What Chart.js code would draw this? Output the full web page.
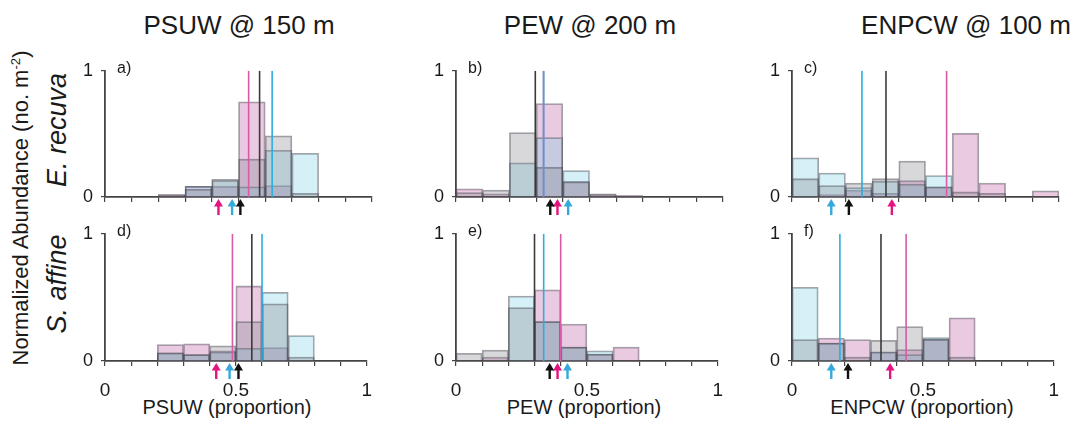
<!DOCTYPE html>
<html>
<head>
<meta charset="utf-8">
<script src="https://cdn.jsdelivr.net/npm/chart.js@4.4.1/dist/chart.umd.min.js"></script>
<style>
  html, body { margin: 0; padding: 0; background: #fff; }
  body { width: 1077px; height: 430px; position: relative; overflow: hidden;
         font-family: "Liberation Sans", Arial, sans-serif; color: #1a1a1a; }
  canvas { position: absolute; }
  .t { position: absolute; white-space: nowrap; line-height: 1; }
  .c { transform: translateX(-50%); }
  .r { transform: translate(-50%, -50%) rotate(-90deg); }
</style>
</head>
<body>
<div class="t c" style="left:239px; top:12px; font-size:26px;">PSUW @ 150 m</div>
<div class="t c" style="left:590px; top:12px; font-size:26px;">PEW @ 200 m</div>
<div class="t c" style="left:966px; top:12px; font-size:26px;">ENPCW @ 100 m</div>

<div class="t r" style="left:21px; top:208px; font-size:22px;">Normalized Abundance (no. m<span style="font-size:0.6em; position:relative; top:-0.6em;">-2</span>)</div>
<div class="t r" style="left:57px; top:130px; font-size:27px; font-style:italic;">E. recuva</div>
<div class="t r" style="left:57px; top:284px; font-size:27px; font-style:italic;">S. affine</div>

<div class="t c" style="left:227px; top:397px; font-size:20px;">PSUW (proportion)</div>
<div class="t c" style="left:584px; top:397px; font-size:20px;">PEW (proportion)</div>
<div class="t c" style="left:922px; top:397px; font-size:20px;">ENPCW (proportion)</div>

<script>
// ---------- data ----------
const binCenters = [0.05, 0.15, 0.25, 0.35, 0.45, 0.55, 0.65, 0.75, 0.85, 0.95];
const panelLabels = ['a)', 'b)', 'c)', 'd)', 'e)', 'f)'];
const xTickValues = [0, 0.5, 1];
const xTickText = ['0', '0.5', '1'];
const yTickValues = [0, 1];
const yTickText = ['0', '1'];

// PSUW, E. recurva (a)
const grey_a    = [0, 0, 0.02, 0.06, 0.14, 0.30, 0.485, 0.03, 0, 0];
const cyan_a    = [0, 0, 0, 0.085, 0.13, 0.08, 0.37, 0.347, 0, 0];
const magenta_a = [0, 0, 0.02, 0.085, 0.085, 0.754, 0.09, 0, 0, 0];
// PEW, E. recurva (b)
const grey_b    = [0.035, 0.055, 0.51, 0.235, 0.12, 0.025, 0.012, 0, 0, 0];
const cyan_b    = [0, 0, 0.27, 0.47, 0.21, 0, 0, 0, 0, 0];
const magenta_b = [0.065, 0.025, 0, 0.74, 0.125, 0.02, 0.01, 0, 0, 0];
// ENPCW, E. recurva (c)
const grey_c    = [0.145, 0.09, 0.11, 0.145, 0.285, 0.08, 0.04, 0.03, 0, 0];
const cyan_c    = [0.31, 0.19, 0.075, 0.125, 0.10, 0.17, 0, 0, 0, 0];
const magenta_c = [0, 0.02, 0.055, 0.03, 0.13, 0.08, 0.505, 0.11, 0, 0.048];
// PSUW, S. affine (d)
const grey_d    = [0, 0, 0.065, 0.05, 0.12, 0.31, 0.45, 0.03, 0, 0];
const cyan_d    = [0, 0, 0.065, 0.05, 0.07, 0.10, 0.54, 0.20, 0, 0];
const magenta_d = [0, 0, 0.13, 0.135, 0.08, 0.59, 0.105, 0, 0, 0];
// PEW, S. affine (e)
const grey_e    = [0.06, 0.085, 0.42, 0.31, 0.11, 0.055, 0, 0, 0, 0];
const cyan_e    = [0, 0, 0.51, 0.31, 0.11, 0.08, 0, 0, 0, 0];
const magenta_e = [0, 0.03, 0, 0.56, 0.29, 0.055, 0.11, 0, 0, 0];
// ENPCW, S. affine (f)
const grey_f    = [0.1675, 0.14, 0.03, 0.1625, 0.27, 0.17, 0.03, 0, 0, 0];
const cyan_f    = [0.58, 0.14, 0, 0.07, 0.05, 0.185, 0, 0, 0, 0];
const magenta_f = [0, 0.18, 0.1675, 0.0725, 0.09, 0.17, 0.34, 0, 0, 0];

// vertical lines (one value per panel a..f)
const meanBlack   = [0.579, 0.297, 0.352, 0.561, 0.300, 0.340];
const meanCyan    = [0.626, 0.328, 0.262, 0.600, 0.335, 0.183];
const meanMagenta = [0.538, 0.328, 0.579, 0.487, 0.400, 0.436];
// arrows below axis (one value per panel a..f)
const arrowBlack   = [0.507, 0.353, 0.213, 0.510, 0.358, 0.214];
const arrowCyan    = [0.476, 0.420, 0.147, 0.476, 0.426, 0.150];
const arrowMagenta = [0.425, 0.380, 0.374, 0.425, 0.388, 0.375];

const greys    = [grey_a, grey_b, grey_c, grey_d, grey_e, grey_f];
const cyans    = [cyan_a, cyan_b, cyan_c, cyan_d, cyan_e, cyan_f];
const magentas = [magenta_a, magenta_b, magenta_c, magenta_d, magenta_e, magenta_f];

// ---------- style / layout ----------
const COL = {
  greyFill: 'rgba(125,125,135,0.30)',
  cyanFill: 'rgba(115,205,228,0.30)',
  magFill: 'rgba(190,100,165,0.34)',
  border: 'rgba(70,70,80,0.5)',
  blackLine: '#3a3a3a',
  cyanLine: '#2aaee0',
  magLine: '#d85aa8',
  blackArrow: '#111111',
  cyanArrow: '#35a9dc',
  magArrow: '#e5137f',
  axis: '#444444',
  text: '#1a1a1a'
};
const FONT = "'Liberation Sans', Arial, sans-serif";
Chart.defaults.font.family = FONT;

const colsX = [105, 456, 792];
const rowsY = [{ top: 64, h: 133, bottom: false }, { top: 227, h: 134, bottom: true }];
const PLOT_W = 268, LEFT = 50, RIGHT = 12, TOP = 12;

function arrowPlugin(i) {
  return {
    id: 'arrows' + i,
    afterDatasetsDraw(chart) {
      const ctx = chart.ctx, xs = chart.scales.x, base = chart.chartArea.bottom;
      const list = [[arrowMagenta[i], COL.magArrow], [arrowCyan[i], COL.cyanArrow], [arrowBlack[i], COL.blackArrow]];
      list.forEach(([v, col]) => {
        const px = xs.getPixelForValue(v);
        ctx.save();
        ctx.strokeStyle = col; ctx.fillStyle = col; ctx.lineWidth = 2.4;
        ctx.beginPath(); ctx.moveTo(px, base + 18); ctx.lineTo(px, base + 8); ctx.stroke();
        ctx.beginPath();
        ctx.moveTo(px, base + 2);
        ctx.lineTo(px - 4.5, base + 9.5);
        ctx.lineTo(px + 4.5, base + 9.5);
        ctx.closePath(); ctx.fill();
        ctx.restore();
      });
    }
  };
}

function makePanel(i) {
  const col = i % 3, row = Math.floor(i / 3);
  const r = rowsY[row];
  const xh = r.bottom ? 45 : 28;
  const W = LEFT + PLOT_W + RIGHT, H = TOP + r.h + xh;
  const cv = document.createElement('canvas');
  cv.width = W; cv.height = H;
  cv.style.width = W + 'px'; cv.style.height = H + 'px';
  cv.style.left = (colsX[col] - LEFT) + 'px';
  cv.style.top = (r.top - TOP) + 'px';
  document.body.appendChild(cv);

  const lbl = document.createElement('div');
  lbl.className = 't';
  lbl.style.cssText = 'left:' + (colsX[col] + 12) + 'px; top:' + (r.top - 4) + 'px; font-size:16px;';
  lbl.textContent = panelLabels[i];
  document.body.appendChild(lbl);

  const pts = arr => arr.map((v, k) => ({ x: binCenters[k], y: v }));
  const vline = v => [{ x: v, y: 0 }, { x: v, y: 1 }];
  const barDs = (arr, fill) => ({ type: 'bar', data: pts(arr), backgroundColor: fill,
    borderColor: COL.border, borderWidth: 1.1, order: 2 });
  const lineDs = (v, c) => ({ type: 'line', data: vline(v), borderColor: c, borderWidth: 1.6,
    pointRadius: 0, fill: false, order: 1 });

  new Chart(cv, {
    type: 'bar',
    data: {
      datasets: [
        lineDs(meanCyan[i], COL.cyanLine),
        lineDs(meanBlack[i], COL.blackLine),
        lineDs(meanMagenta[i], COL.magLine),
        barDs(greys[i], COL.greyFill),
        barDs(cyans[i], COL.cyanFill),
        barDs(magentas[i], COL.magFill)
      ]
    },
    options: {
      responsive: false, animation: false, devicePixelRatio: 1,
      layout: { padding: { left: 0, right: RIGHT, top: TOP, bottom: 0 } },
      plugins: { legend: { display: false }, tooltip: { enabled: false } },
      datasets: { bar: { barPercentage: 1, categoryPercentage: 1, grouped: false } },
      scales: {
        x: {
          type: 'linear', min: 0, max: 1, offset: false,
          ticks: {
            stepSize: 0.1, autoSkip: false, maxRotation: 0, minRotation: 0, padding: 13,
            color: COL.text, font: { size: 19 },
            callback: v => {
              const k = xTickValues.findIndex(t => Math.abs(t - v) < 1e-6);
              return (r.bottom && k >= 0) ? xTickText[k] : '';
            }
          },
          grid: { drawOnChartArea: false, drawTicks: true, tickLength: 5, color: COL.axis, lineWidth: 1.2, offset: false },
          border: { display: true, color: COL.axis, width: 1.8 },
          afterFit: s => { s.height = xh; }
        },
        y: {
          min: 0, max: 1,
          ticks: {
            stepSize: 1, padding: 8, color: COL.text, font: { size: 18 },
            callback: v => {
              const k = yTickValues.findIndex(t => Math.abs(t - v) < 1e-6);
              return k >= 0 ? yTickText[k] : '';
            }
          },
          grid: { drawOnChartArea: false, drawTicks: true, tickLength: 4, color: COL.axis, lineWidth: 1.2 },
          border: { display: true, color: COL.axis, width: 1.8 },
          afterFit: s => { s.width = LEFT; }
        }
      }
    },
    plugins: [arrowPlugin(i)]
  });
}

for (let i = 0; i < 6; i++) makePanel(i);
</script>
</body>
</html>
